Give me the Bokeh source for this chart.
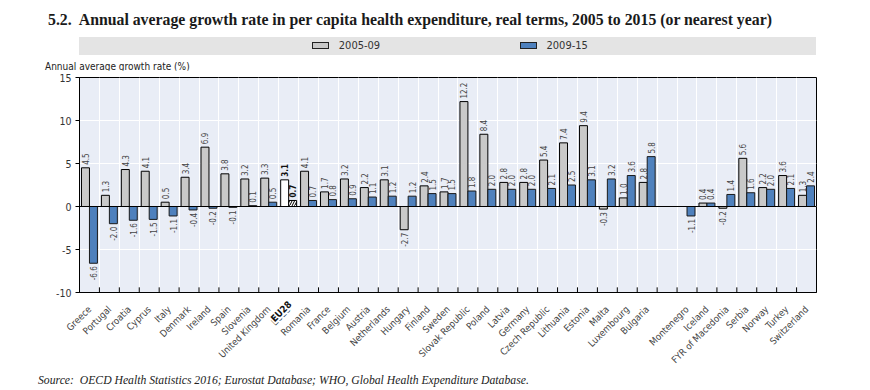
import math
from bokeh.plotting import figure
from bokeh.models import ColumnDataSource, Range1d, FixedTicker, Span, Div
from bokeh.layouts import column
from bokeh.core.properties import value
from bokeh.embed import file_html
from bokeh.resources import INLINE

# ---------------- data ----------------
countries_eu = ["Greece", "Portugal", "Croatia", "Cyprus", "Italy", "Denmark", "Ireland", "Spain",
                "Slovenia", "United Kingdom", "EU28", "Romania", "France", "Belgium", "Austria",
                "Netherlands", "Hungary", "Finland", "Sweden", "Slovak Republic", "Poland", "Latvia",
                "Germany", "Czech Republic", "Lithuania", "Estonia", "Malta", "Luxembourg", "Bulgaria"]
countries_other = ["Montenegro", "Iceland", "FYR of Macedonia", "Serbia", "Norway", "Turkey", "Switzerland"]

g0509_eu = [4.5, 1.3, 4.3, 4.1, 0.5, 3.4, 6.9, 3.8, 3.2, 3.3, 3.1, 4.1, 1.7, 3.2, 2.2, 3.1, -2.7,
            2.4, 1.7, 12.2, 8.4, 2.8, 2.8, 5.4, 7.4, 9.4, -0.3, 1.0, 2.8]
g0915_eu = [-6.6, -2.0, -1.6, -1.5, -1.1, -0.4, -0.2, -0.1, 0.1, 0.5, 0.7, 0.7, 0.8, 0.9, 1.1, 1.2,
            1.2, 1.5, 1.5, 1.8, 2.0, 2.0, 2.0, 2.1, 2.5, 3.1, 3.2, 3.6, 5.8]
g0509_other = [None, 0.4, -0.2, 5.6, 2.2, 3.6, 1.3]
g0915_other = [-1.1, 0.4, 1.4, 1.6, 2.0, 2.1, 2.4]

series_names = ["2005-09", "2009-15"]
y_ticks = [-10, -5, 0, 5, 10, 15]

title_text = "5.2.&nbsp; Annual average growth rate in per capita health expenditure, real terms, 2005 to 2015 (or nearest year)"
ylabel_text = "Annual average growth rate (%)"
source_text = "Source:&nbsp; OECD Health Statistics 2016; Eurostat Database; WHO, Global Health Expenditure Database."

# ---------------- derived ----------------
countries = countries_eu + countries_other
pos = list(range(len(countries_eu))) + [len(countries_eu) + 1 + i for i in range(len(countries_other))]
nslots = len(countries_eu) + 1 + len(countries_other)
g0509 = g0509_eu + g0509_other
g0915 = g0915_eu + g0915_other
eu_i = countries.index("EU28")

# ---------------- style / layout ----------------
W = 866
HT, HM, HB = 70, 302, 17
FL, FR, FT, FBOT = 79, 816, 7, 79
GREY = "#C9C9C9"
BLUE = "#4F81BD"
BG = "#E9EDF6"
SANS = "DejaVu Sans Condensed"
CSS_SANS = "'DejaVu Sans Condensed', Roboto, sans-serif"
CSS_SERIF = "'Liberation Serif', serif"

def abs_text(left, cy, txt, size, family, color, extra=""):
    lh = round(size * 1.3)
    return ('<div style="position:absolute;left:%.1fpx;top:%.1fpx;line-height:%dpx;font-size:%.1fpx;'
            'font-family:%s;color:%s;white-space:nowrap;%s">%s</div>'
            % (left, cy - lh / 2, lh, size, family, color, extra, txt))

def abs_box(left, top, w, h, fill, border=None):
    b = "border:1px solid %s;" % border if border else ""
    return ('<div style="position:absolute;left:%.1fpx;top:%.1fpx;width:%.1fpx;height:%.1fpx;'
            'background:%s;box-sizing:border-box;%s"></div>' % (left, top, w, h, fill, b))

# ---------------- top strip (title, legend, y label) ----------------
parts = [abs_text(48, 19, title_text, 15.8, CSS_SERIF, "#1a1a1a", "font-weight:bold;"),
         abs_box(79.3, 36.7, 736.4, 18, "#E4E4E4")]
for sx, col, name in [(312.3, GREY, series_names[0]), (520, BLUE, series_names[1])]:
    parts.append(abs_box(sx, 42.3, 17, 7, col, "#222222"))
    parts.append(abs_text(sx + 26.5, 45.7, name, 11, CSS_SANS, "#333333"))
parts.append(abs_text(45, 66, ylabel_text, 10, CSS_SANS, "#222222"))
top = Div(text='<div style="position:relative;width:%dpx;height:%dpx;">%s</div>' % (W, HT, "".join(parts)),
          width=W, height=HT, margin=0)

# ---------------- main chart ----------------
p = figure(width=W, height=HM, output_backend="svg", toolbar_location=None,
           x_range=Range1d(-0.5, nslots - 0.5), y_range=Range1d(-10, 15),
           min_border_left=FL, min_border_right=W - FR, min_border_top=FT, min_border_bottom=FBOT)
p.background_fill_color = BG
p.border_fill_color = "white"
p.outline_line_color = "black"
p.outline_line_width = 1

bnd = [i + 0.5 for i in range(nslots - 1)]
p.xgrid.ticker = FixedTicker(ticks=bnd)
p.xgrid.grid_line_color = "white"
p.ygrid.ticker = FixedTicker(ticks=y_ticks)
p.ygrid.grid_line_color = "white"

p.yaxis.ticker = FixedTicker(ticks=y_ticks)
p.yaxis.major_label_overrides = {t: str(t) for t in y_ticks}
p.yaxis.axis_line_color = "black"
p.yaxis.major_tick_out = 4
p.yaxis.major_tick_in = 0
p.yaxis.minor_tick_line_color = None
p.yaxis.major_label_text_font = SANS
p.yaxis.major_label_text_font_size = "10.5px"
p.yaxis.major_label_text_color = "#333333"
p.yaxis.major_label_standoff = 4

p.xaxis.ticker = FixedTicker(ticks=pos)
p.xaxis.major_label_overrides = {pp: c for pp, c in zip(pos, countries)}
p.xaxis.major_label_orientation = math.pi / 4
p.xaxis.major_tick_line_color = None
p.xaxis.minor_tick_line_color = None
p.xaxis.axis_line_color = "black"
p.xaxis.major_label_text_font = SANS
p.xaxis.major_label_text_font_size = "9.5px"
p.xaxis.major_label_text_color = "#444444"
p.xaxis.major_label_standoff = 9

# inner tick marks at slot boundaries on the bottom edge
p.segment(x0=bnd, y0=[-10] * len(bnd), x1=bnd, y1=[-9.4] * len(bnd), line_color="black", line_width=1)

w = 0.4
xa, ya, xb, yb = [], [], [], []
for i, (pp, a, b) in enumerate(zip(pos, g0509, g0915)):
    if i == eu_i:
        continue
    if a is not None:
        xa.append(pp - 0.2); ya.append(a)
    xb.append(pp + 0.2); yb.append(b)
p.vbar(x=xa, top=ya, bottom=0, width=w, fill_color=GREY, line_color="black", line_width=1)
p.vbar(x=xb, top=yb, bottom=0, width=w, fill_color=BLUE, line_color="#1a1a1a", line_width=1)
p.vbar(x=[pos[eu_i] - 0.2], top=[g0509[eu_i]], bottom=0, width=w, fill_color="white", line_color="black")
p.vbar(x=[pos[eu_i] + 0.2], top=[g0915[eu_i]], bottom=0, width=w, fill_color="white", line_color="black",
       hatch_pattern="/", hatch_color="black", hatch_scale=5, hatch_weight=1)
p.add_layout(Span(location=0, dimension="width", line_color="black", line_width=1))

def add_labels(xs, ys, bold=False):
    for keep, align, off in [(lambda v: v >= 0, "left", -3), (lambda v: v < 0, "right", 3)]:
        src = ColumnDataSource(dict(x=[x for x, y in zip(xs, ys) if keep(y)],
                                    y=[y for x, y in zip(xs, ys) if keep(y)],
                                    t=["%.1f" % y for y in ys if keep(y)]))
        p.text(x="x", y="y", text="t", source=src, angle=math.pi / 2, text_align=align,
               text_baseline="middle", y_offset=off, text_font=value(SANS), text_font_size="8px",
               text_color="#111111" if bold else "#444444",
               text_font_style="bold" if bold else "normal")

add_labels(xa, ya)
add_labels(xb, yb)
add_labels([pos[eu_i] - 0.2, pos[eu_i] + 0.2], [g0509[eu_i], g0915[eu_i]], bold=True)

# ---------------- bottom strip (source + bold EU28 label overlay) ----------------
pxu = (FR - FL) / nslots
eu_anchor_x = FL + (pos[eu_i] + 0.5) * pxu + 2
eu_anchor_y = HT + HM - FBOT + 9.5 - (HT + HM)
eu_html = ('<div style="position:absolute;right:%.1fpx;top:%.1fpx;line-height:11px;font-size:9.5px;'
           'font-family:%s;font-weight:bold;color:#111111;background:white;white-space:nowrap;'
           'transform-origin:100%% 50%%;transform:rotate(-45deg);padding-left:1px;">EU28</div>'
           % (W - eu_anchor_x, eu_anchor_y - 5.5, CSS_SANS))
bot = Div(text='<div style="position:relative;width:%dpx;height:%dpx;overflow:visible;">%s%s</div>'
          % (W, HB, abs_text(38, 8, source_text, 11.7, CSS_SERIF, "#222222", "font-style:italic;"), eu_html),
          width=W, height=HB, margin=0, styles={"overflow": "visible"})

layout = column(top, p, bot, spacing=0)
open("out.html", "w").write(file_html(layout, INLINE))
